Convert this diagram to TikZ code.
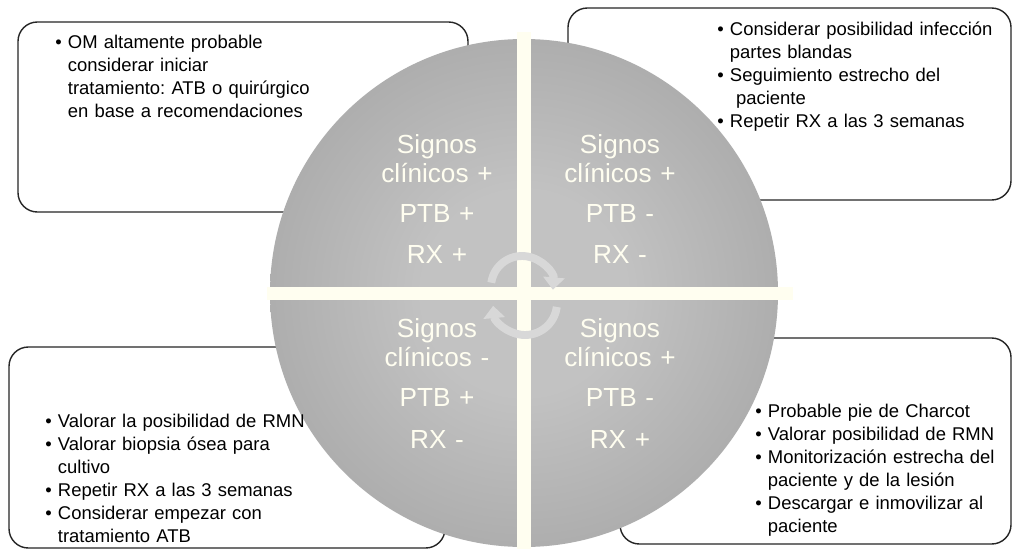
\documentclass[tikz,border=0pt]{standalone}
\usepackage{fontspec}
\setmainfont{Liberation Sans}
\usetikzlibrary{arrows.meta}

\definecolor{crema}{RGB}{255,254,240}
\definecolor{discin}{RGB}{194,194,194}
\definecolor{discout}{RGB}{140,140,140}
\definecolor{flecha}{RGB}{216,216,216}
\pgfdeclareradialshading{disco}{\pgfpoint{0bp}{0bp}}{color(0bp)=(discin); color(10bp)=(discin); color(50bp)=(discout)}

\newcommand{\punto}{\textbullet\ }
\newcommand{\sigue}{\hphantom{\textbullet\ }}
\frenchspacing

\begin{document}
\begin{tikzpicture}[x=0.02cm,y=0.02cm,
  caja/.style={draw=black!85,line width=0.8pt,fill=white,rounded corners=11pt},
  nota/.style={anchor=base west,inner sep=0pt,text width=9cm,align=left,
    font=\fontsize{10.5}{13.2}\selectfont},
  cuadro/.style={anchor=base,inner sep=0pt,text width=3.6cm,align=center,
    text=crema,font=\fontsize{14.9}{16.8}\selectfont},
  giro/.style={draw=flecha,line width=4.5pt,-{Triangle[width=12pt,length=7pt]}}]
  \useasboundingbox (0,0) rectangle (1013,549);
  \fill[white] (0,0) rectangle (1013,549);

  % cajas
  \draw[caja] (18,337) rectangle (468,527);
  \draw[caja] (568,349) rectangle (1011,541);
  \draw[caja] (9,1) rectangle (445,202);
  \draw[caja] (620,5) rectangle (1011,211);

  % disco y cruz
  \coordinate (c) at (524,256);
  \shade[shading=disco] (c) circle[radius=254];
  \fill[crema] (517,0) rectangle (531,517);
  \fill[crema] (267,249) rectangle (793,262);

  % flechas
  \draw[giro] (522,262) ++(172:31) arc[start angle=172,end angle=-5,radius=31];
  \draw[giro] (525,246) ++(-7:32) arc[start angle=-7,end angle=-175,radius=32];

  % cuadrantes
  \node[cuadro] (q1) at (437,396) {Signos\\clínicos +\\[6pt]PTB +\\[6.5pt]RX +};
  \node[cuadro] (q2) at (620,396) {Signos\\clínicos +\\[6pt]PTB -\\[6.5pt]RX -};
  \node[cuadro] (q3) at (437,212) {Signos\\clínicos -\\[6pt]PTB +\\[7pt]RX -};
  \node[cuadro] (q4) at (620,212) {Signos\\clínicos +\\[6pt]PTB -\\[7pt]RX +};

  % textos
  \node[nota] (t1) at (55,501) {\punto OM altamente probable\\ \sigue considerar iniciar\\
    \sigue tratamiento: ATB o quirúrgico\\ \sigue en base a recomendaciones};
  \node[nota] (t2) at (717,514) {\punto Considerar posibilidad infección\\ \sigue partes blandas\\
    \punto Seguimiento estrecho del\\ \sigue\ paciente\\ \punto Repetir RX a las 3 semanas};
  \node[nota] (t3) at (45,122) {\punto Valorar la posibilidad de RMN\\ \punto Valorar biopsia ósea para\\
    \sigue cultivo\\ \punto Repetir RX a las 3 semanas\\ \punto Considerar empezar con\\
    \sigue tratamiento ATB};
  \node[nota] (t4) at (755,132) {\punto Probable pie de Charcot\\ \punto Valorar posibilidad de RMN\\
    \punto Monitorización estrecha del\\ \sigue paciente y de la lesión\\
    \punto Descargar e inmovilizar al\\ \sigue paciente};
\end{tikzpicture}
\end{document}
